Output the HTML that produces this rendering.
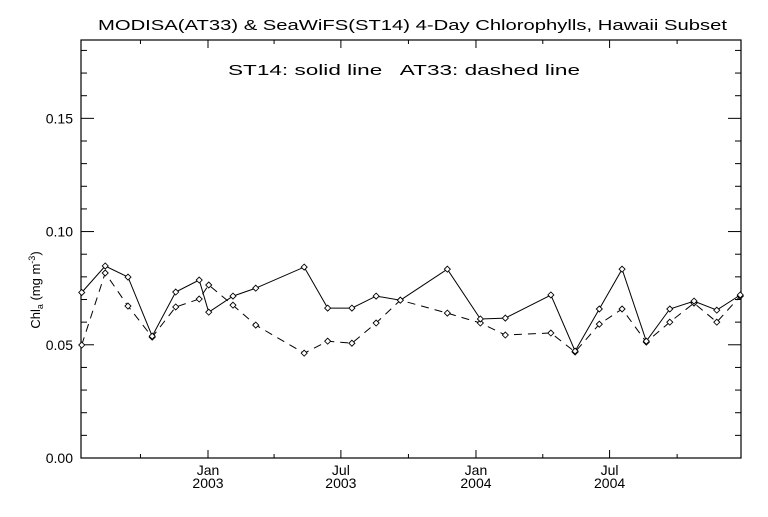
<!DOCTYPE html>
<html><head><meta charset="utf-8"><style>
body{margin:0;background:#fff}
svg text{font-family:"Liberation Sans",sans-serif;fill:#000}
</style></head><body>
<svg id="chart" width="768" height="512" viewBox="0 0 768 512" xmlns="http://www.w3.org/2000/svg">
<rect width="768" height="512" fill="#fff"/>
<text x="98" y="30" font-size="15" textLength="629" lengthAdjust="spacingAndGlyphs">MODISA(AT33) &amp; SeaWiFS(ST14) 4-Day Chlorophylls, Hawaii Subset</text>
<text x="228" y="75" font-size="15" textLength="352" lengthAdjust="spacingAndGlyphs" xml:space="preserve">ST14: solid line   AT33: dashed line</text>
<text transform="translate(40,290) rotate(-90)" text-anchor="middle" font-size="13">Chl<tspan font-size="9" dy="3">a</tspan><tspan dy="-3"> (mg m</tspan><tspan font-size="9" dy="-5">-3</tspan><tspan dy="5">)</tspan></text>
<g id="axes"></g>
<g id="series"></g>
</svg>
<script>
const dayOffsets=[-172,-140,-109,-76,-44,-12,1,34,65,131,163,196,229,262,326,371,405,467,500,533,564,597,629,662,693,725];
const st14=[0.0731,0.0848,0.0799,0.0538,0.0733,0.0786,0.0644,0.0715,0.0750,0.0843,0.0662,0.0662,0.0715,0.0697,0.0834,0.0614,0.0618,0.0720,0.0472,0.0658,0.0834,0.0516,0.0658,0.0693,0.0653,0.0720];
const at33=[0.0499,0.0817,0.0671,0.0534,0.0667,0.0702,0.0764,0.0675,0.0587,0.0463,0.0516,0.0507,0.0596,0.0697,0.0640,0.0596,0.0543,0.0552,0.0468,0.0591,0.0658,0.0512,0.0600,0.0684,0.0600,0.0715];
const yTickLabels=["0.00","0.05","0.10","0.15"];
const yTickValues=[0,0.05,0.10,0.15];
const xMajorDays=[0,181,365,547];
const xMajorLabels=[["Jan","2003"],["Jul","2003"],["Jan","2004"],["Jul","2004"]];
const xMinorDays=[-92,90,273,456,639];

const L=81,R=741,T=40,B=458;
const Y_MAX=0.1846, D0=-173, D1=726;
const sx=d=>L+(d-D0)/(D1-D0)*(R-L);
const sy=v=>B-v/Y_MAX*(B-T);
const NS="http://www.w3.org/2000/svg";
function mk(tag,attrs,parent){const e=document.createElementNS(NS,tag);for(const k in attrs)e.setAttribute(k,attrs[k]);parent.appendChild(e);return e;}
const ax=document.getElementById('axes'), se=document.getElementById('series');
const frame=mk('rect',{x:L,y:T,width:R-L,height:B-T,fill:'none',stroke:'#000','stroke-width':1.2},ax);


// y ticks
for(let v=0;v<=0.18001;v+=0.01){
  const y=sy(v); const major=Math.round(v*100)%5===0; const len=major?13:6;
  mk('line',{x1:L,x2:L+len,y1:y,y2:y,stroke:'#000'},ax);
  mk('line',{x1:R,x2:R-len,y1:y,y2:y,stroke:'#000'},ax);
}
yTickValues.forEach((v,i)=>{
  const t=mk('text',{x:73,y:sy(v)+5,'text-anchor':'end','font-size':14},ax);
  t.textContent=yTickLabels[i];
  
  
});
xMajorDays.forEach((d,i)=>{
  const x=sx(d);
  mk('line',{x1:x,x2:x,y1:B,y2:B-8,stroke:'#000'},ax);
  mk('line',{x1:x,x2:x,y1:T,y2:T+8,stroke:'#000'},ax);
  const t1=mk('text',{x:x,y:B+17,'text-anchor':'middle','font-size':14},ax);
  t1.textContent=xMajorLabels[i][0];
  
  
  const t2=mk('text',{x:x,y:B+30,'text-anchor':'middle','font-size':14},ax);
  t2.textContent=xMajorLabels[i][1];
  
  
});
xMinorDays.forEach(d=>{
  const x=sx(d); if(x<=L||x>=R)return;
  mk('line',{x1:x,x2:x,y1:B,y2:B-4,stroke:'#000'},ax);
  mk('line',{x1:x,x2:x,y1:T,y2:T+4,stroke:'#000'},ax);
});
function drawSeries(vals,name,dash){
  const pts=vals.map((v,i)=>sx(dayOffsets[i]).toFixed(1)+','+sy(v).toFixed(1)).join(' ');
  const pl=mk('polyline',{points:pts,fill:'none',stroke:'#000','stroke-width':1,'stroke-dasharray':dash},se);
  
  
  vals.forEach((v,i)=>{
    const x=sx(dayOffsets[i]),y=sy(v);
    const m=mk('polygon',{points:`${x},${y-3} ${x+3},${y} ${x},${y+3} ${x-3},${y}`,fill:'#fff',stroke:'#000','stroke-width':0.9},se);
    
    
  });
}
drawSeries(at33,'at33','8,6');
drawSeries(st14,'st14','none');
</script>
</body></html>
